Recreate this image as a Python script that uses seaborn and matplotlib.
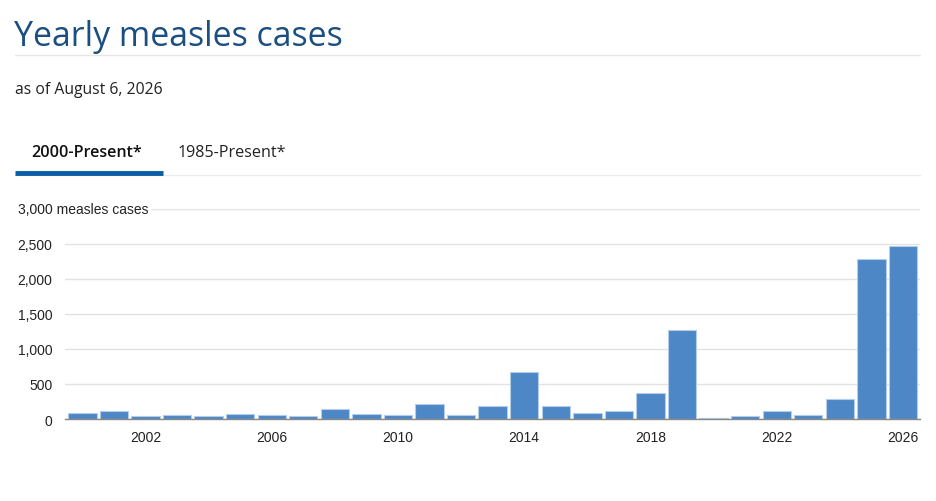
import matplotlib
matplotlib.use("Agg")
import matplotlib.pyplot as plt
import pandas as pd
import seaborn as sns

# yearly measles cases
years = list(range(2000, 2027))
cases = [86, 116, 44, 56, 37, 66, 55, 43, 140, 71, 63, 220, 55,
         187, 667, 188, 86, 120, 375, 1274, 13, 49, 121, 59, 285, 2285, 2463]
tick_years = [2002, 2006, 2010, 2014, 2018, 2022, 2026]
y_ticks = [0, 500, 1000, 1500, 2000, 2500, 3000]

df = pd.DataFrame({"year": years, "cases": cases})

sns.set_style("white")
plt.rcParams["font.family"] = ["Liberation Sans", "DejaVu Sans"]

W, H = 936, 502
fig = plt.figure(figsize=(W / 100, H / 100), dpi=100)

def fx(px):
    return px / W

def fy(py):
    return 1 - py / H

head_font = ["Open Sans", "DejaVu Sans"]

# header: title, rule, date line and tabs
fig.text(fx(14), fy(37), "Yearly measles cases", fontsize=24.4, color="#1b4f82",
         family=head_font, va="center", ha="left")
fig.add_artist(plt.Line2D([fx(15), fx(920)], [fy(56), fy(56)], color="#e6e6e6", lw=1))
fig.text(fx(15), fy(90), "as of August 6, 2026", fontsize=11.3, color="#222222",
         family=head_font, va="center", ha="left")
fig.text(fx(31), fy(153), "2000-Present*", fontsize=11.6, color="#111111", fontweight="semibold",
         family=head_font, va="center", ha="left")
fig.text(fx(178), fy(153), "1985-Present*", fontsize=11.6, color="#222222",
         family=head_font, va="center", ha="left")
fig.add_artist(plt.Line2D([fx(15), fx(920)], [fy(176), fy(176)], color="#ececec", lw=1))
fig.add_artist(plt.Line2D([fx(15), fx(163)], [fy(174), fy(174)], color="#0a5ca6", lw=3.5,
                          solid_capstyle="butt"))

ax = fig.add_axes([fx(65), fy(420), fx(920) - fx(65), fy(209.5) - fy(420)])
sns.barplot(data=df, x="year", y="cases", native_scale=True, width=0.9,
            color="#4d87c6", saturation=1, edgecolor="#b3cdea", linewidth=0.8, ax=ax)

ax.set_xlim(1999.45, 2026.54)
ax.set_ylim(0, 3000)
ax.set_xticks(tick_years)
ax.set_xticklabels([str(y) for y in tick_years])
ax.set_yticks(y_ticks)
labels = [f"{v:,}" for v in y_ticks]
labels[-1] = ""
ax.set_yticklabels(labels)
ax.set_xlabel("")
ax.set_ylabel("")

ax.grid(axis="y", color="#e3e3e3", lw=1)
ax.set_axisbelow(True)
for s in ["top", "right", "left"]:
    ax.spines[s].set_visible(False)
ax.spines["bottom"].set_color("#888888")
ax.spines["bottom"].set_linewidth(1)
ax.tick_params(axis="x", length=5, width=1, color="#888888", labelsize=10,
               labelcolor="#222222", pad=3)
ax.tick_params(axis="y", length=0, labelsize=10, labelcolor="#222222", pad=9)

# the top gridline carries the axis title instead of a tick label
ax.text(-0.055, 3000, "3,000 measles cases", transform=ax.get_yaxis_transform(),
        fontsize=10, color="#222222", ha="left", va="center",
        bbox=dict(facecolor="white", edgecolor="none", pad=2))

fig.savefig("out.png", dpi=100)
